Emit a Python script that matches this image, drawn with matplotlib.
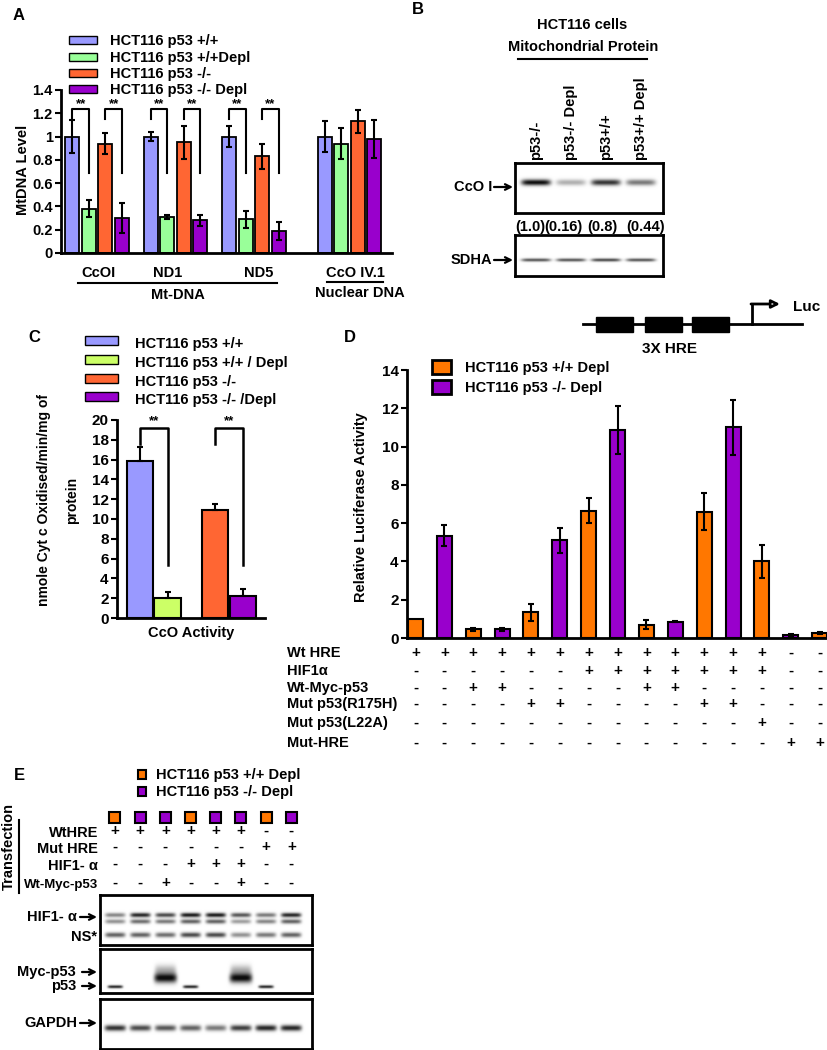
import numpy as np
import matplotlib
matplotlib.use('Agg')
import matplotlib.pyplot as plt
from matplotlib.patches import Rectangle
from matplotlib.transforms import blended_transform_factory

plt.rcParams['font.family'] = ['Liberation Sans', 'DejaVu Sans']
plt.rcParams['font.weight'] = 'bold'

# ---- panel A : mtDNA level ----
a_genes = ['CcOI', 'ND1', 'ND5', 'CcO IV.1']
a_series = ['HCT116 p53 +/+', 'HCT116 p53 +/+Depl', 'HCT116 p53 -/-', 'HCT116 p53 -/- Depl']
a_wt = [1.0, 1.0, 1.0, 1.0]
a_wt_err = [0.14, 0.035, 0.09, 0.13]
a_wt_depl = [0.38, 0.31, 0.29, 0.94]
a_wt_depl_err = [0.075, 0.02, 0.075, 0.13]
a_ko = [0.94, 0.95, 0.83, 1.13]
a_ko_err = [0.09, 0.14, 0.11, 0.10]
a_ko_depl = [0.30, 0.28, 0.19, 0.98]
a_ko_depl_err = [0.13, 0.05, 0.08, 0.16]

# ---- panel B : western blot ----
b_lanes = ['p53-/-', 'p53-/- Depl', 'p53+/+', 'p53+/+ Depl']
b_cco_quant = [1.0, 0.16, 0.8, 0.44]
b_sdha = [0.7, 0.7, 0.75, 0.7]

# ---- panel C : CcO activity ----
c_series = ['HCT116 p53 +/+', 'HCT116 p53 +/+ / Depl', 'HCT116 p53 -/-', 'HCT116 p53 -/- /Depl']
c_values = [15.9, 2.0, 10.9, 2.2]
c_err = [1.4, 0.6, 0.6, 0.7]

# ---- panel D : luciferase ----
d_series = ['HCT116 p53 +/+ Depl', 'HCT116 p53 -/- Depl']
d_values = [1.0, 5.35, 0.45, 0.45, 1.35, 5.1, 6.65, 10.85, 0.7, 0.85, 6.6, 11.0, 4.0, 0.15, 0.25]
d_err = [0, 0.55, 0.07, 0.07, 0.45, 0.65, 0.65, 1.25, 0.25, 0.04, 0.95, 1.45, 0.87, 0.05, 0.05]
d_rows = ['Wt HRE', 'HIF1\u03b1', 'Wt-Myc-p53', 'Mut p53(R175H)', 'Mut p53(L22A)', 'Mut-HRE']
d_table = ['+++++++++++++--',
           '------+++++++--',
           '--++----++-----',
           '----++----++---',
           '------------+--',
           '-------------++']

# ---- panel E : western blot ----
e_cells = [0, 1, 1, 0, 1, 1, 0, 1]   # 0 = p53 +/+ Depl, 1 = p53 -/- Depl
e_rows = ['WtHRE', 'Mut HRE', 'HIF1- \u03b1', 'Wt-Myc-p53']
e_table = ['++++++--', '------++', '---+++--', '--+--+--']
e_hif_up = [0.5, 0.9, 0.75, 0.95, 0.95, 0.7, 0.55, 0.9]
e_hif_low = [0.45, 0.6, 0.55, 0.65, 0.65, 0.4, 0.5, 0.65]
e_ns = [0.65, 0.65, 0.6, 0.75, 0.75, 0.45, 0.55, 0.65]
e_myc = [0, 0, 1.0, 0, 0, 1.0, 0, 0]
e_p53 = [0.9, 0, 0, 0.9, 0, 0, 0.9, 0]
e_gapdh = [0.85, 0.75, 0.7, 0.65, 0.55, 0.8, 0.9, 0.9]

BLUE, GREEN, LIME, ORANGE, PURPLE = '#9999FF', '#99FF99', '#CCFF66', '#FF6633', '#9900CC'
ORANGE2 = '#FF7700'

W, H = 828, 1050
fig = plt.figure(figsize=(W / 100, H / 100), dpi=100)


def add_ax(x0, y0, x1, y1):
    return fig.add_axes([x0 / W, 1 - y1 / H, (x1 - x0) / W, (y1 - y0) / H])


def style_axis(ax, fs):
    for s in ['top', 'right']:
        ax.spines[s].set_visible(False)
    for s in ['left', 'bottom']:
        ax.spines[s].set_linewidth(2)
    ax.tick_params(axis='y', direction='out', length=4, width=1.5, labelsize=fs, pad=2)
    ax.set_xticks([])
    for t in ax.get_yticklabels():
        t.set_fontweight('bold')


def draw_blot(ax, xlim, bands):
    xs = np.linspace(xlim[0], xlim[1], 500)
    ys = np.linspace(0, 1, 160)
    X, Y = np.meshgrid(xs, ys)
    dens = np.zeros_like(X)
    for yc, sy, hw, levels in bands:
        for i, lv in enumerate(levels):
            dens += lv * np.exp(-((X - i) / hw) ** 6) * np.exp(-((Y - yc) / sy) ** 2)
    ax.imshow(1 - 0.95 * np.clip(dens, 0, 1), cmap='gray', vmin=0, vmax=1,
              extent=(xlim[0], xlim[1], 0, 1), origin='lower', aspect='auto',
              interpolation='bilinear')
    ax.set_xlim(xlim)
    ax.set_ylim(0, 1)
    ax.set_xticks([])
    ax.set_yticks([])
    for s in ax.spines.values():
        s.set_linewidth(2)


# ================= panel A =================
axA = add_ax(61, 90, 392, 253)
a_pos = np.array([0, 1, 2, 3.22])
a_vals = [a_wt, a_wt_depl, a_ko, a_ko_depl]
a_errs = [a_wt_err, a_wt_depl_err, a_ko_err, a_ko_depl_err]
a_cols = [BLUE, GREEN, ORANGE, PURPLE]
for k in range(4):
    axA.bar(a_pos + (k - 1.5) * 0.21, a_vals[k], 0.18, yerr=a_errs[k], color=a_cols[k],
            edgecolor='black', linewidth=1.3,
            error_kw=dict(ecolor='black', elinewidth=1.5, capsize=2, capthick=1.5))
axA.set_xlim(-0.46, 3.76)
axA.set_ylim(0, 1.4)
axA.set_yticks(np.arange(0, 1.41, 0.2))
axA.set_yticklabels(['0', '0.2', '0.4', '0.6', '0.8', '1', '1.2', '1.4'])
style_axis(axA, 10.5)
for g in range(3):
    for k in (0, 2):
        xl = a_pos[g] + (k - 1.5) * 0.21
        xr = a_pos[g] + (k - 0.5) * 0.21
        axA.plot([xl, xl, xr, xr], [1.15, 1.24, 1.24, 0.69], color='black', lw=1.5, clip_on=False)
        axA.text((xl + xr) / 2, 1.28, '**', ha='center', va='center', fontsize=9.5, clip_on=False)

# ================= panel C =================
axC = add_ax(117, 420, 265, 618)
c_pos = np.array([0, 0, 1, 1]) + np.array([-0.183, 0.183, -0.183, 0.183])
axC.bar(c_pos, c_values, 0.35, yerr=[np.zeros(4), c_err], color=[BLUE, LIME, ORANGE, PURPLE],
        edgecolor='black', linewidth=1.5,
        error_kw=dict(ecolor='black', elinewidth=1.5, capsize=2.5, capthick=1.5))
axC.set_xlim(-0.49, 1.48)
axC.set_ylim(0, 20)
axC.set_yticks(np.arange(0, 21, 2))
style_axis(axC, 11)
for g in range(2):
    xl, xr = c_pos[2 * g], c_pos[2 * g + 1]
    axC.plot([xl, xl, xr, xr], [17.6, 19.2, 19.2, 5.4], color='black', lw=1.8, clip_on=False)
    axC.text((xl + xr) / 2, 19.9, '**', ha='center', va='center', fontsize=9.5, clip_on=False)

# ================= panel D =================
axD = add_ax(407, 370, 828, 638)
d_idx = np.arange(len(d_values))
d_cols = [ORANGE2 if i % 2 == 0 else PURPLE for i in d_idx]
axD.bar(d_idx, d_values, 0.52, color=d_cols, edgecolor='black', linewidth=1.5)
has_err = np.array(d_err) > 0
axD.errorbar(d_idx[has_err], np.array(d_values)[has_err], yerr=np.array(d_err)[has_err],
             fmt='none', ecolor='black', elinewidth=1.5, capsize=2.5, capthick=1.5)
axD.set_xlim(-0.295, 14.29)
axD.set_ylim(0, 14)
axD.set_yticks(np.arange(0, 15, 2))
style_axis(axD, 11)
tr = blended_transform_factory(axD.transData, fig.transFigure)
row_y = [653, 671, 688, 704, 723, 743]
for r, row in enumerate(d_table):
    for i, ch in enumerate(row):
        axD.text(i, 1 - row_y[r] / H, ch, transform=tr, ha='center', va='center',
                 fontsize=11, clip_on=False)

# ================= blots =================
axB1 = add_ax(515, 163, 663, 213)
b_xlim = (-0.6, 3.63)
draw_blot(axB1, b_xlim, [(0.6, 0.06, 0.42, [0.2 + 0.8 * q for q in b_cco_quant])])
axB2 = add_ax(515, 235, 663, 276)
draw_blot(axB2, b_xlim, [(0.39, 0.04, 0.42, b_sdha)])

e_xlim = (-0.6, 7.82)
axE1 = add_ax(100, 895, 312, 945)
draw_blot(axE1, e_xlim, [(0.6, 0.045, 0.4, e_hif_up), (0.47, 0.045, 0.4, e_hif_low),
                         (0.2, 0.05, 0.4, e_ns)])
axE2 = add_ax(100, 949, 312, 993)
draw_blot(axE2, e_xlim, [(0.34, 0.11, 0.45, e_myc), (0.52, 0.12, 0.42, [0.3 * v for v in e_myc]),
                         (0.14, 0.035, 0.3, e_p53)])
axE3 = add_ax(100, 999, 312, 1049)
draw_blot(axE3, e_xlim, [(0.42, 0.06, 0.42, e_gapdh)])

# ================= overlay for text and decorations =================
ov = fig.add_axes([0, 0, 1, 1], zorder=10)
ov.set_xlim(0, W)
ov.set_ylim(H, 0)
ov.axis('off')


def txt(x, y, s, size=10.5, ha='left', va='center', **kw):
    ov.text(x, y, s, fontsize=size, ha=ha, va=va, fontweight='bold', **kw)


def arrow(x0, x1, y):
    ov.annotate('', xy=(x1, y), xytext=(x0, y),
                arrowprops=dict(arrowstyle='->', lw=1.6, color='black', shrinkA=0, shrinkB=0))


def swatch(x0, y0, x1, y1, color, lw=1.0):
    ov.add_patch(Rectangle((x0, y0), x1 - x0, y1 - y0, facecolor=color, edgecolor='black', lw=lw))


# panel A text
txt(13, 15, 'A', 12)
for k, (lab, yy) in enumerate(zip(a_series, [40, 57, 73, 89])):
    swatch(69, yy - 4.5, 97, yy + 3.5, a_cols[k])
    txt(110, yy + 1, lab)
ov.text(23, 170, 'MtDNA Level', rotation=90, fontsize=10.5, fontweight='bold', ha='center', va='center')
a_lab_x = [99, 168, 259, 355]
for lab, xx in zip(a_genes, a_lab_x):
    txt(xx, 273, lab, ha='center')
ov.plot([78, 277], [283, 283], color='black', lw=1.5)
txt(178, 295, 'Mt-DNA', ha='center')
ov.plot([327, 383], [282, 282], color='black', lw=1.5)
txt(360, 293, 'Nuclear DNA', ha='center')

# panel B text
txt(412, 9, 'B', 12)
txt(582, 25, 'HCT116 cells', ha='center')
txt(583, 47, 'Mitochondrial Protein', ha='center')
ov.plot([518, 647], [59, 59], color='black', lw=1.5)
for i, lab in enumerate(b_lanes):
    ov.text(536 + 35 * i, 160, lab, rotation=90, fontsize=10.5, fontweight='bold', ha='center', va='bottom')
txt(492, 187, 'CcO I', ha='right')
arrow(494, 513, 187)
txt(492, 260, 'SDHA', ha='right')
arrow(494, 513, 260)
for q, xx in zip(b_cco_quant, [530, 563, 602, 646]):
    txt(xx, 227, '(%s)' % q, ha='center')

# panel C text
txt(28, 338, 'C', 12)
for k, (lab, yy) in enumerate(zip(c_series, [340, 359, 378, 396])):
    swatch(85, yy - 4.5, 118, yy + 4.5, [BLUE, LIME, ORANGE, PURPLE][k])
    txt(135, yy + 4, lab)
ov.text(44, 500, 'nmole Cyt c Oxidised/min/mg of', rotation=90, fontsize=10, fontweight='bold',
        ha='center', va='center')
ov.text(72, 500, 'protein', rotation=90, fontsize=10, fontweight='bold', ha='center', va='center')
txt(191, 633, 'CcO Activity', ha='center')

# panel D text
txt(344, 337, 'D', 12)
ov.plot([583, 802], [324, 324], color='black', lw=2)
for xb in (596, 645, 692):
    ov.add_patch(Rectangle((xb, 317), 37, 15, facecolor='black', edgecolor='black'))
ov.plot([752, 752], [324, 304], color='black', lw=2)
ov.annotate('', xy=(780, 304), xytext=(751, 304),
            arrowprops=dict(arrowstyle='-|>', lw=2, color='black', fc='white', shrinkA=0, shrinkB=0,
                            mutation_scale=12))
txt(793, 307, 'Luc', 11)
txt(670, 349, '3X HRE', 11, ha='center')
for k, (lab, yy) in enumerate(zip(d_series, [367, 387])):
    swatch(432, yy - 7, 451, yy + 7, [ORANGE2, PURPLE][k], lw=2)
    txt(465, yy + 1, lab)
ov.text(361, 507, 'Relative Luciferase Activity', rotation=90, fontsize=10.5, fontweight='bold',
        ha='center', va='center')
for lab, yy in zip(d_rows, row_y):
    txt(287, yy, lab)

# panel E text
txt(14, 775, 'E', 12)
for k, (lab, yy) in enumerate(zip(d_series, [775, 792])):
    swatch(138, yy - 5, 146, yy + 4, [ORANGE2, PURPLE][k], lw=1.5)
    txt(156, yy, lab)
e_lane_x = [115 + 25.2 * i for i in range(len(e_cells))]
for xx, c in zip(e_lane_x, e_cells):
    swatch(xx - 5.5, 812, xx + 5.5, 823, [ORANGE2, PURPLE][c], lw=1.5)
e_row_y = [833, 849, 866, 885]
for lab, yy, row in zip(e_rows, e_row_y, e_table):
    txt(98, yy, lab, 9.5 if len(lab) > 8 else 10.5, ha='right')
    for xx, ch in zip(e_lane_x, row):
        txt(xx, yy - 2, ch, 11, ha='center')
ov.text(9, 846, 'Transfection', rotation=90, fontsize=10.5, fontweight='bold', ha='center', va='center')
ov.plot([19, 19], [820, 893], color='black', lw=1.5)
txt(77, 917, 'HIF1- \u03b1', ha='right')
arrow(80, 97, 917)
txt(97, 937, 'NS*', ha='right')
txt(76, 972, 'Myc-p53', ha='right')
arrow(82, 97, 972)
txt(76, 986, 'p53', ha='right')
arrow(82, 97, 986)
txt(77, 1023, 'GAPDH', ha='right')
arrow(80, 97, 1023)

fig.savefig('out.png', dpi=100)
